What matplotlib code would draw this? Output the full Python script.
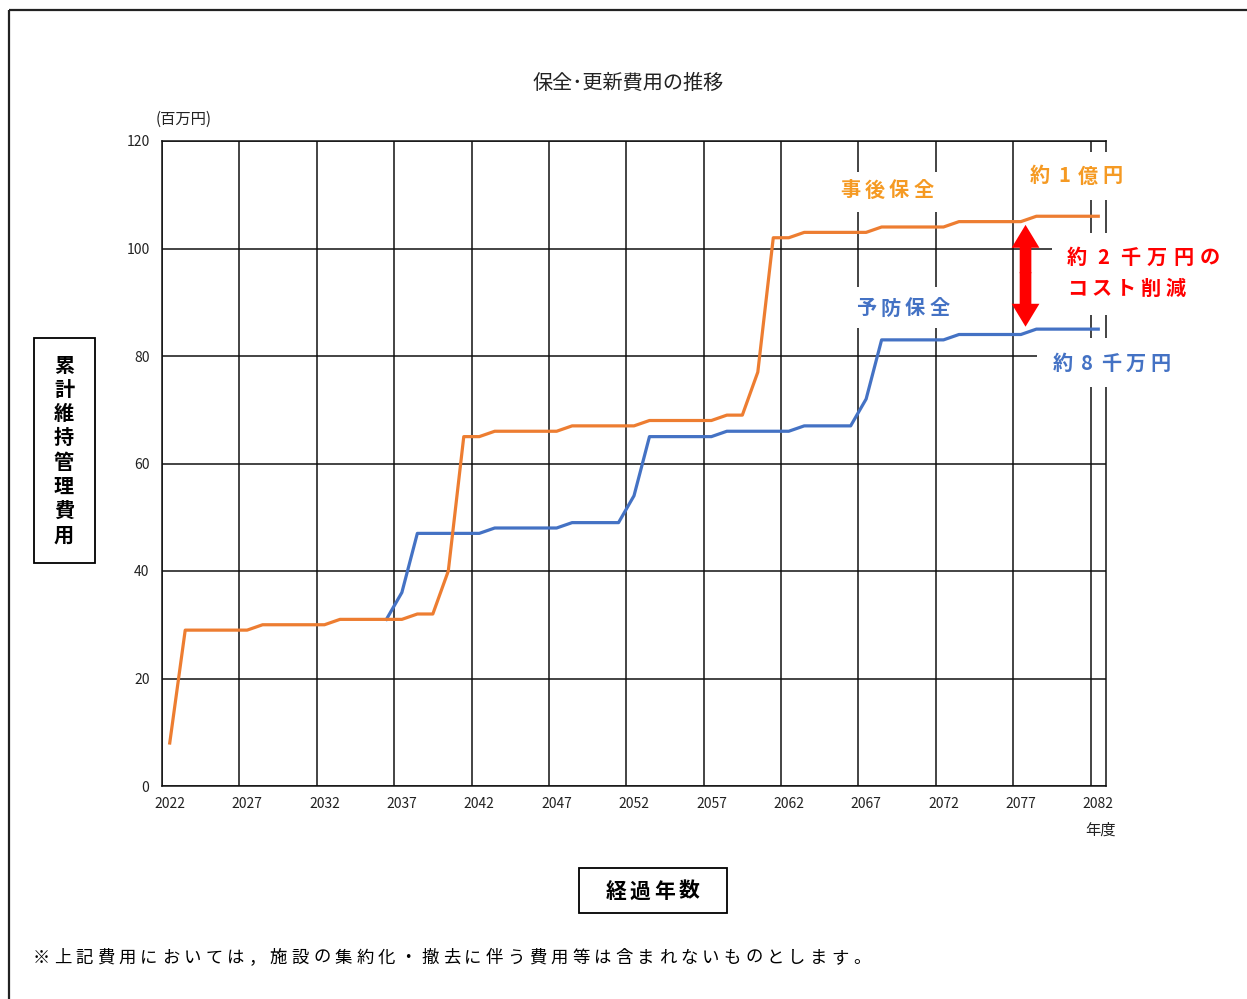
import numpy as np
import matplotlib
matplotlib.use("Agg")
import matplotlib.pyplot as plt
from matplotlib.patches import Rectangle

plt.rcParams['font.family'] = ['Noto Sans CJK JP', 'DejaVu Sans']

# ---------------- data ----------------
years_post = list(range(2022, 2083))
post_values = ([8] + [29] * 5 + [30] * 5 + [31] * 5 + [32] * 2 + [40] + [65] * 2 +
               [66] * 5 + [67] * 5 + [68] * 5 + [69] * 2 + [77] + [102] * 2 +
               [103] * 5 + [104] * 5 + [105] * 5 + [106] * 5)
years_prev = list(range(2036, 2083))
prev_values = ([31] + [36] + [47] * 5 + [48] * 5 + [49] * 4 + [54] + [65] * 5 +
               [66] * 5 + [67] * 4 + [72] + [83] * 5 + [84] * 5 + [85] * 5)
x_tick_years = list(range(2022, 2083, 5))
y_ticks = list(range(0, 121, 20))

title = "保全･更新費用の推移"
unit_label = "(百万円)"
x_unit = "年度"
ylabel_chars = "累計維持管理費用"
xlabel_text = "経過年数"
label_post = "事後保全"
label_prev = "予防保全"
ann_post = "約1億円"
ann_prev = "約8千万円"
ann_diff1 = "約2千万円の"
ann_diff2 = "コスト削減"
footnote = "※上記費用においては，施設の集約化・撤去に伴う費用等は含まれないものとします。"

ORANGE = "#ED7D31"
BLUE = "#4472C4"
TXT_ORANGE = "#F59A23"
RED = "#FF0000"

W, H = 1247, 999
fig = plt.figure(figsize=(W / 100, H / 100), dpi=100)
fig.patch.set_facecolor("white")

# main axes
L, R, T, B = 162, 1106, 141, 786
ax = fig.add_axes([L / W, (H - B) / H, (R - L) / W, (B - T) / H])
ax.plot(years_prev, prev_values, color=BLUE, lw=2.3, solid_joinstyle='round', zorder=3)
ax.plot(years_post, post_values, color=ORANGE, lw=2.3, solid_joinstyle='round', zorder=4)
ax.set_xlim(2021.5, 2082.5)
ax.set_ylim(0, 120)
ax.set_xticks(x_tick_years)
ax.set_xticklabels([str(y) for y in x_tick_years], fontsize=10, color="#222222")
ax.set_xticks(np.arange(2021.5, 2083, 5), minor=True)
ax.set_yticks(y_ticks)
ax.set_yticklabels([str(v) for v in y_ticks], fontsize=10, color="#222222")
ax.tick_params(which='both', length=0)
ax.tick_params(axis='x', pad=8)
ax.tick_params(axis='y', pad=9)
ax.grid(which='minor', axis='x', color='#111111', lw=1.1)
ax.grid(which='major', axis='y', color='#111111', lw=1.1)
ax.set_axisbelow(True)
for s in ax.spines.values():
    s.set_color('#111111')
    s.set_linewidth(1.1)

# double arrow (difference)
mid = (post_values[-1] + prev_values[-1]) / 2
for tip in (104.4, 85.45):
    ax.annotate('', xy=(2077.3, tip), xytext=(2077.3, mid - 0.1 if tip > mid else mid + 0.1),
                arrowprops=dict(arrowstyle='simple,head_length=1.65,head_width=2.0,tail_width=0.84',
                                mutation_scale=10, color=RED, lw=0, shrinkA=0, shrinkB=0),
                zorder=6)

# overlay in pixel coordinates
ov = fig.add_axes([0, 0, 1, 1], zorder=5)
ov.set_xlim(0, W)
ov.set_ylim(H, 0)
ov.axis('off')

# frame
ov.plot([9, W], [10, 10], color='#222222', lw=1.6, solid_capstyle='butt')
ov.plot([9, 9], [10, H], color='#222222', lw=1.6, solid_capstyle='butt')


def mask(x0, y0, x1, y1):
    ov.add_patch(Rectangle((x0, y0), x1 - x0, y1 - y0, facecolor='white', edgecolor='none', zorder=2))


def spaced(cx0, cy, s, pitch, **kw):
    for i, ch in enumerate(s):
        ov.text(cx0 + i * pitch, cy, ch, ha='center', va='center', zorder=3, **kw)


# white masks behind annotation labels
mask(835, 172, 945, 212)
mask(850, 287, 955, 328)
mask(1015, 152, 1135, 200)
mask(1052, 233, 1235, 315)
mask(1037, 338, 1185, 387)

spaced(850, 190, label_post, 24.5, fontsize=14.5, fontweight='bold', color=TXT_ORANGE)
spaced(866, 308, label_prev, 24.5, fontsize=14.5, fontweight='bold', color=BLUE)
spaced(1040, 176, ann_post, 24.0, fontsize=14.5, fontweight='bold', color=TXT_ORANGE)
spaced(1077, 257, ann_diff1, 26.5, fontsize=14.5, fontweight='bold', color=RED)
spaced(1077, 288, ann_diff2, 24.5, fontsize=14.5, fontweight='bold', color=RED)
spaced(1063, 363, ann_prev, 24.3, fontsize=14.5, fontweight='bold', color=BLUE)

# title and unit labels
ov.text(628, 83, title, ha='center', va='center', fontsize=14.5, color='#222222')
ov.text(184, 119, unit_label, ha='center', va='center', fontsize=11, color='#222222')
ov.text(1100, 830, x_unit, ha='center', va='center', fontsize=11, color='#222222')

# y label box
ov.add_patch(Rectangle((34, 338), 61, 225, facecolor='white', edgecolor='black', lw=1.3, zorder=2))
for i, ch in enumerate(ylabel_chars):
    ov.text(64, 365 + i * 24.3, ch, ha='center', va='center', fontsize=14.5,
            fontweight='bold', color='black', zorder=3)

# x label box
ov.add_patch(Rectangle((579, 868), 148, 45, facecolor='white', edgecolor='black', lw=1.3, zorder=2))
spaced(616, 891, xlabel_text, 24.3, fontsize=15, fontweight='bold', color='black')

# footnote
spaced(41, 958, footnote, 21.6, fontsize=12.5, color='black')

fig.savefig("out.png", dpi=100, facecolor='white')
